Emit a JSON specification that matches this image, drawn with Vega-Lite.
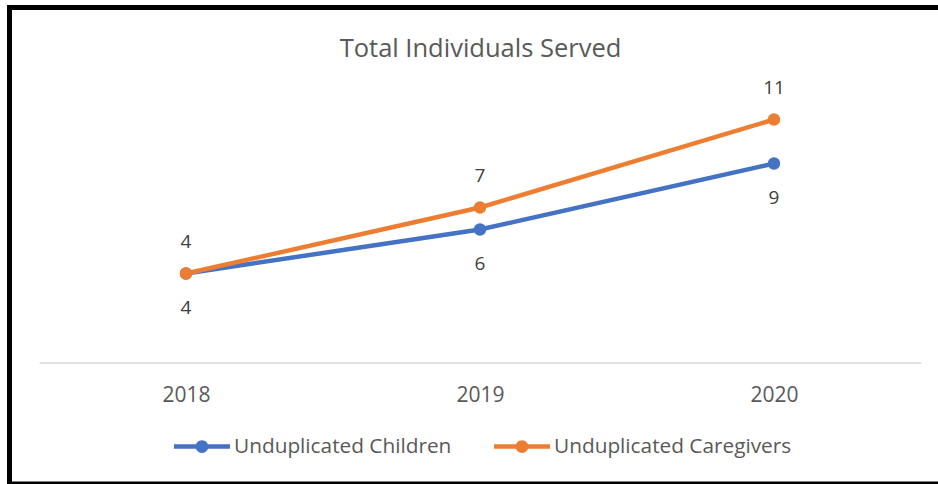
{
  "$schema": "https://vega.github.io/schema/vega-lite/v6.json",
  "autosize": "none",
  "padding": {"left": 9.5, "top": 7.5, "right": -31.5, "bottom": 0},
  "width": 960,
  "height": 476.5,
  "background": "white",
  "view": {"stroke": "black", "strokeWidth": 5, "fill": "white"},
  "title": {
    "text": "Total Individuals Served",
    "font": "Open Sans",
    "fontSize": 25.5,
    "fontWeight": "normal",
    "color": "#595959",
    "anchor": "middle",
    "frame": "group",
    "offset": -55,
    "dx": -9
  },
  "data": {
    "values": [
      {"year": "2018", "series": "Unduplicated Children", "value": 4},
      {"year": "2019", "series": "Unduplicated Children", "value": 6},
      {"year": "2020", "series": "Unduplicated Children", "value": 9},
      {"year": "2018", "series": "Unduplicated Caregivers", "value": 4},
      {"year": "2019", "series": "Unduplicated Caregivers", "value": 7},
      {"year": "2020", "series": "Unduplicated Caregivers", "value": 11}
    ]
  },
  "encoding": {
    "x": {
      "field": "year",
      "type": "ordinal",
      "scale": {"type": "point", "range": [29.5, 911.5], "padding": 0.5},
      "axis": {
        "title": null,
        "orient": "bottom",
        "offset": -121.5,
        "labelAngle": 0,
        "ticks": false,
        "grid": false,
        "domainColor": "#D9D9D9",
        "domainWidth": 1.5,
        "labelFont": "Open Sans",
        "labelFontSize": 21,
        "labelColor": "#595959",
        "labelPadding": 22
      }
    },
    "y": {
      "field": "value",
      "type": "quantitative",
      "scale": {"domain": [-5.568, 16.091], "nice": false, "zero": false},
      "axis": null
    },
    "color": {
      "field": "series",
      "type": "nominal",
      "scale": {
        "domain": ["Unduplicated Children", "Unduplicated Caregivers"],
        "range": ["#4472C4", "#ED7D31"]
      },
      "legend": {
        "title": null,
        "orient": "none",
        "direction": "horizontal",
        "legendX": 164.5,
        "legendY": 411,
        "padding": 0,
        "symbolType": "M-1,-0.08L1,-0.08L1,0.08L-1,0.08Z M-0.23,0A0.23,0.23 0 1,1 0.23,0A0.23,0.23 0 1,1 -0.23,0Z",
        "symbolSize": 3136,
        "symbolStrokeWidth": 0,
        "symbolOpacity": 1,
        "labelFont": "Open Sans",
        "labelFontSize": 20.8,
        "labelColor": "#595959",
        "labelOffset": 4,
        "labelLimit": 0,
        "columnPadding": 42
      }
    }
  },
  "layer": [
    {"mark": {"type": "line", "strokeWidth": 4.5}},
    {"mark": {"type": "point", "filled": true, "size": 154, "opacity": 1}},
    {
      "transform": [{"filter": "datum.series === 'Unduplicated Caregivers'"}],
      "mark": {"type": "text", "dy": -32, "baseline": "middle", "font": "Open Sans", "fontSize": 19, "color": "#404040"},
      "encoding": {"text": {"field": "value", "type": "quantitative"}, "color": {"value": "#404040"}}
    },
    {
      "transform": [{"filter": "datum.series === 'Unduplicated Children'"}],
      "mark": {"type": "text", "dy": 34, "baseline": "middle", "font": "Open Sans", "fontSize": 19, "color": "#404040"},
      "encoding": {"text": {"field": "value", "type": "quantitative"}, "color": {"value": "#404040"}}
    }
  ]
}
